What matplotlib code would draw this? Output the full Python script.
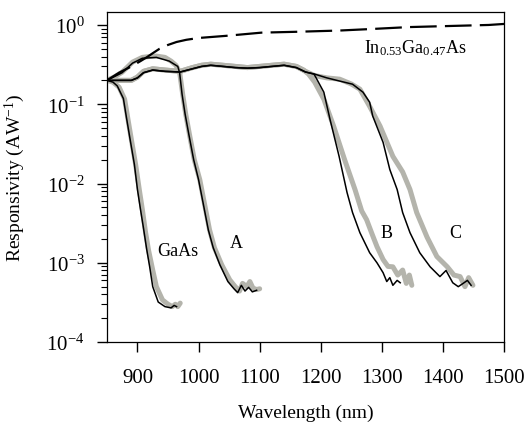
import matplotlib
matplotlib.use('Agg')
import matplotlib.pyplot as plt
from matplotlib.ticker import LogLocator, NullFormatter, FixedLocator

plt.rcParams['font.family'] = 'Liberation Serif'
plt.rcParams['mathtext.fontset'] = 'custom'
plt.rcParams['mathtext.rm'] = 'Liberation Serif'
plt.rcParams['mathtext.it'] = 'Liberation Serif:italic'

# InGaAs reference detector (dashed)
ingaas_wl = [850, 870, 890, 905, 915, 925, 936, 950, 964, 980, 1000, 1046, 1103, 1160, 1230, 1284, 1344, 1410, 1475, 1500]
ingaas_r = [0.20, 0.25, 0.30, 0.35, 0.39, 0.44, 0.50, 0.56, 0.61, 0.65, 0.685, 0.73, 0.80, 0.82, 0.85, 0.89, 0.94, 0.97, 1.0, 1.03]

# GaAs
gaas_gray_wl = [850, 860, 870, 879, 884, 890, 897, 903, 908, 913, 918, 925, 931, 941, 950, 957, 962, 966, 970]
gaas_gray_r = [0.20, 0.19, 0.164, 0.116, 0.068, 0.036, 0.0174, 0.0084, 0.0047, 0.0025, 0.00146, 0.00081, 0.0005, 0.00034, 0.0003, 0.00028, 0.0003, 0.00028, 0.00031]
gaas_black_wl = [850, 860, 867, 877, 882, 888, 895, 900, 905, 910, 915, 920, 925, 934, 945, 955, 960, 964]
gaas_black_r = [0.20, 0.19, 0.17, 0.118, 0.068, 0.036, 0.0174, 0.0084, 0.0047, 0.0027, 0.0015, 0.00089, 0.0005, 0.00032, 0.00028, 0.00027, 0.00029, 0.00028]

# sample A
a_gray_wl = [850, 862, 875, 892, 908, 920, 931, 945, 955, 963, 969, 974, 979, 985, 993, 1002, 1010, 1018, 1026, 1038, 1051, 1060, 1067, 1072, 1079, 1084, 1089, 1095, 1100]
a_gray_r = [0.20, 0.22, 0.254, 0.34, 0.39, 0.40, 0.405, 0.39, 0.35, 0.31, 0.254, 0.134, 0.075, 0.042, 0.020, 0.0112, 0.0054, 0.0026, 0.00155, 0.00094, 0.00061, 0.0005, 0.00044, 0.00055, 0.0005, 0.00058, 0.00048, 0.00046, 0.00047]
a_black_wl = [850, 875, 892, 908, 931, 952, 966, 969, 973, 978, 984, 992, 1000, 1008, 1016, 1024, 1035, 1048, 1058, 1064, 1070, 1076, 1082, 1088, 1095]
a_black_r = [0.20, 0.25, 0.33, 0.38, 0.39, 0.35, 0.30, 0.25, 0.134, 0.075, 0.042, 0.020, 0.0112, 0.0054, 0.0026, 0.00155, 0.00094, 0.00058, 0.00047, 0.00042, 0.00052, 0.00044, 0.00049, 0.00043, 0.00045]

# sample B
b_gray_wl = [850, 870, 890, 900, 910, 925, 945, 970, 990, 1005, 1020, 1040, 1060, 1080, 1100, 1120, 1140, 1160, 1172,
             1180, 1190, 1205, 1221, 1239, 1256, 1267, 1275, 1284, 1292, 1302, 1310, 1318, 1326, 1334, 1340, 1345, 1349]
b_gray_r = [0.20, 0.20, 0.20, 0.22, 0.26, 0.28, 0.27, 0.26, 0.29, 0.31, 0.32, 0.31, 0.30, 0.29, 0.30, 0.31, 0.32, 0.30, 0.27,
            0.24, 0.19, 0.116, 0.053, 0.020, 0.0084, 0.0045, 0.0035, 0.0023, 0.0016, 0.0011, 0.0009, 0.00089, 0.0007, 0.00081, 0.00055, 0.0007, 0.00052]
b_black_wl = [850, 870, 890, 900, 910, 925, 945, 970, 990, 1005, 1020, 1040, 1060, 1080, 1100, 1120, 1140, 1160, 1175,
              1189, 1205, 1215, 1230, 1243, 1252, 1264, 1280, 1292, 1302, 1308, 1313, 1318, 1325, 1330]
b_black_r = [0.20, 0.20, 0.20, 0.215, 0.25, 0.27, 0.26, 0.255, 0.28, 0.30, 0.31, 0.30, 0.29, 0.285, 0.29, 0.30, 0.31, 0.29, 0.255,
             0.24, 0.142, 0.065, 0.022, 0.0077, 0.0043, 0.0024, 0.00134, 0.001, 0.00075, 0.00058, 0.00065, 0.00052, 0.0006, 0.00056]

# sample C
c_gray_wl = [850, 870, 890, 900, 910, 925, 945, 970, 990, 1005, 1020, 1040, 1060, 1080, 1100, 1120, 1140, 1160, 1175,
             1190, 1210, 1231, 1250, 1264, 1280, 1297, 1318, 1334, 1346, 1357, 1374, 1390, 1407, 1418, 1428, 1436, 1442, 1449]
c_gray_r = [0.20, 0.20, 0.20, 0.22, 0.26, 0.28, 0.27, 0.26, 0.29, 0.31, 0.32, 0.31, 0.30, 0.29, 0.30, 0.31, 0.32, 0.30, 0.26,
            0.23, 0.215, 0.207, 0.18, 0.155, 0.094, 0.053, 0.022, 0.014, 0.0084, 0.0043, 0.0021, 0.0012, 0.00089, 0.0007, 0.00067, 0.0005, 0.00065, 0.00052]
c_black_wl = [850, 870, 890, 900, 910, 925, 945, 970, 990, 1005, 1020, 1040, 1060, 1080, 1100, 1120, 1140, 1160, 1175,
              1190, 1210, 1231, 1252, 1269, 1280, 1285, 1302, 1313, 1325, 1334, 1346, 1362, 1379, 1395, 1405, 1416, 1425, 1433, 1440, 1446]
c_black_r = [0.20, 0.20, 0.20, 0.215, 0.25, 0.27, 0.26, 0.255, 0.28, 0.30, 0.31, 0.30, 0.29, 0.285, 0.29, 0.30, 0.31, 0.29, 0.255,
             0.24, 0.215, 0.196, 0.179, 0.142, 0.106, 0.071, 0.033, 0.015, 0.0084, 0.0043, 0.0024, 0.00134, 0.00089, 0.00067, 0.0008, 0.00056, 0.0005, 0.00055, 0.0006, 0.00052]

x_ticks = [900, 1000, 1100, 1200, 1300, 1400, 1500]
y_ticks = [1e-4, 1e-3, 1e-2, 1e-1, 1e0]
y_ticklabels = ['10$^{-4}$', '10$^{-3}$', '10$^{-2}$', '10$^{-1}$', '10$^{0}$']

gray = '#b4b4ac'

fig = plt.figure(figsize=(5.24, 4.31), dpi=100)
ax = fig.add_axes([0.204, 0.204, 0.758, 0.766])
ax.set_yscale('log')

for wl, r in [(gaas_gray_wl, gaas_gray_r), (a_gray_wl, a_gray_r), (b_gray_wl, b_gray_r), (c_gray_wl, c_gray_r)]:
    ax.plot(wl, r, color=gray, lw=3.6, solid_capstyle='round', zorder=2)
for wl, r in [(gaas_black_wl, gaas_black_r), (a_black_wl, a_black_r), (b_black_wl, b_black_r), (c_black_wl, c_black_r)]:
    ax.plot(wl, r, color='black', lw=1.1, zorder=3)
ax.plot(ingaas_wl, ingaas_r, color='black', lw=1.6, linestyle=(0, (12, 3.7)), zorder=4)

ax.text(966, 0.00126, 'GaAs', fontsize=13, ha='center', va='baseline')
ax.text(1062, 0.0016, 'A', fontsize=13, ha='center', va='baseline')
ax.text(1307, 0.0021, 'B', fontsize=13, ha='center', va='baseline')
ax.text(1420, 0.0021, 'C', fontsize=13, ha='center', va='baseline')
ax.text(1270, 0.455, 'In$_{0.53}$Ga$_{0.47}$As', fontsize=13, ha='left', va='baseline')

ax.set_xlim(850, 1500)
ax.set_ylim(1e-4, 1.46)
ax.xaxis.set_major_locator(FixedLocator(x_ticks))
ax.set_yticks(y_ticks)
ax.set_yticklabels(y_ticklabels)
ax.yaxis.set_minor_locator(LogLocator(base=10, subs=range(2, 10)))
ax.yaxis.set_minor_formatter(NullFormatter())

ax.tick_params(axis='both', which='major', direction='out', length=7, width=1, labelsize=15, top=False, right=False)
ax.tick_params(axis='x', which='major', pad=12)
ax.tick_params(axis='y', which='major', pad=9)
ax.tick_params(axis='y', which='minor', direction='out', length=4, width=0.8, right=False)
for s in ax.spines.values():
    s.set_linewidth(0.9)

ax.set_xlabel('Wavelength (nm)', fontsize=14, labelpad=12)
ax.set_ylabel('Responsivity (AW$^{-1}$)', fontsize=14, labelpad=14)

fig.savefig('out.png', dpi=100)
